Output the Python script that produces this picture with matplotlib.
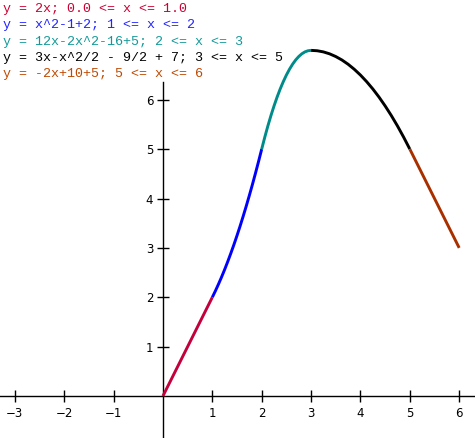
import matplotlib
matplotlib.use("Agg")
import matplotlib.pyplot as plt

# Segment data
seg1_x = [0.0, 1.0]
seg1_y = [0.0, 2.0]
seg2_x = [1.0, 1.0625, 1.125, 1.1875, 1.25, 1.3125, 1.375, 1.4375, 1.5,
          1.5625, 1.625, 1.6875, 1.75, 1.8125, 1.875, 1.9375, 2.0]
seg2_y = [2.0, 2.129, 2.266, 2.410, 2.5625, 2.723, 2.891, 3.066, 3.25,
          3.441, 3.641, 3.848, 4.0625, 4.285, 4.516, 4.754, 5.0]
seg3_x = [2.0, 2.0625, 2.125, 2.1875, 2.25, 2.3125, 2.375, 2.4375, 2.5,
          2.5625, 2.625, 2.6875, 2.75, 2.8125, 2.875, 2.9375, 3.0]
seg3_y = [5.0, 5.242, 5.469, 5.680, 5.875, 6.055, 6.219, 6.367, 6.5,
          6.617, 6.719, 6.805, 6.875, 6.930, 6.969, 6.992, 7.0]
seg4_x = [3.0, 3.125, 3.25, 3.375, 3.5, 3.625, 3.75, 3.875, 4.0,
          4.125, 4.25, 4.375, 4.5, 4.625, 4.75, 4.875, 5.0]
seg4_y = [7.0, 6.992, 6.969, 6.930, 6.875, 6.805, 6.719, 6.617, 6.5,
          6.367, 6.219, 6.055, 5.875, 5.680, 5.469, 5.242, 5.0]
seg5_x = [5.0, 6.0]
seg5_y = [5.0, 3.0]

labels = [
    "y = 2x; 0.0 <= x <= 1.0",
    "y = x^2-1+2; 1 <= x <= 2",
    "y = 12x-2x^2-16+5; 2 <= x <= 3",
    "y = 3x-x^2/2 - 9/2 + 7; 3 <= x <= 5",
    "y = -2x+10+5; 5 <= x <= 6",
]
colors = ["#c4003c", "#0000ff", "#008b8b", "#000000", "#a83000"]
text_colors = ["#cc0033", "#2222ff", "#119999", "#000000", "#c04800"]

xticks = [-3, -2, -1, 1, 2, 3, 4, 5, 6]
yticks = [1, 2, 3, 4, 5, 6]

W, H = 475, 438
fig = plt.figure(figsize=(W / 100, H / 100), dpi=100)
ax = fig.add_axes([0, 0, 1, 1])
ax.set_xlim(-3.30, 6.32)
ax.set_ylim(-0.85, 8.02)

segs = [(seg1_x, seg1_y), (seg2_x, seg2_y), (seg3_x, seg3_y),
        (seg4_x, seg4_y), (seg5_x, seg5_y)]
for (sx, sy), c in zip(segs, colors):
    ax.plot(sx, sy, color=c, lw=2.1, solid_capstyle="butt",
            solid_joinstyle="round", zorder=3)

for side in ["top", "right"]:
    ax.spines[side].set_visible(False)
ax.spines["left"].set_position(("data", 0))
ax.spines["bottom"].set_position(("data", 0))
ax.spines["left"].set_bounds(-0.85, 6.36)
for side in ["left", "bottom"]:
    ax.spines[side].set_linewidth(1.0)
ax.patch.set_alpha(0)

ax.set_xticks(xticks)
ax.set_yticks(yticks)
ax.tick_params(axis="both", direction="inout", length=8, width=1.0,
               labelsize=8.5, colors="black")
ax.tick_params(axis="x", pad=4)
ax.tick_params(axis="y", pad=3)

for i, (t, c) in enumerate(zip(labels, text_colors)):
    fig.text(3 / W, 1 - (9 + 16.3 * i) / H, t, color=c, family="Liberation Mono",
             fontsize=9.6, va="center", ha="left")

fig.savefig("out.png", dpi=100)
